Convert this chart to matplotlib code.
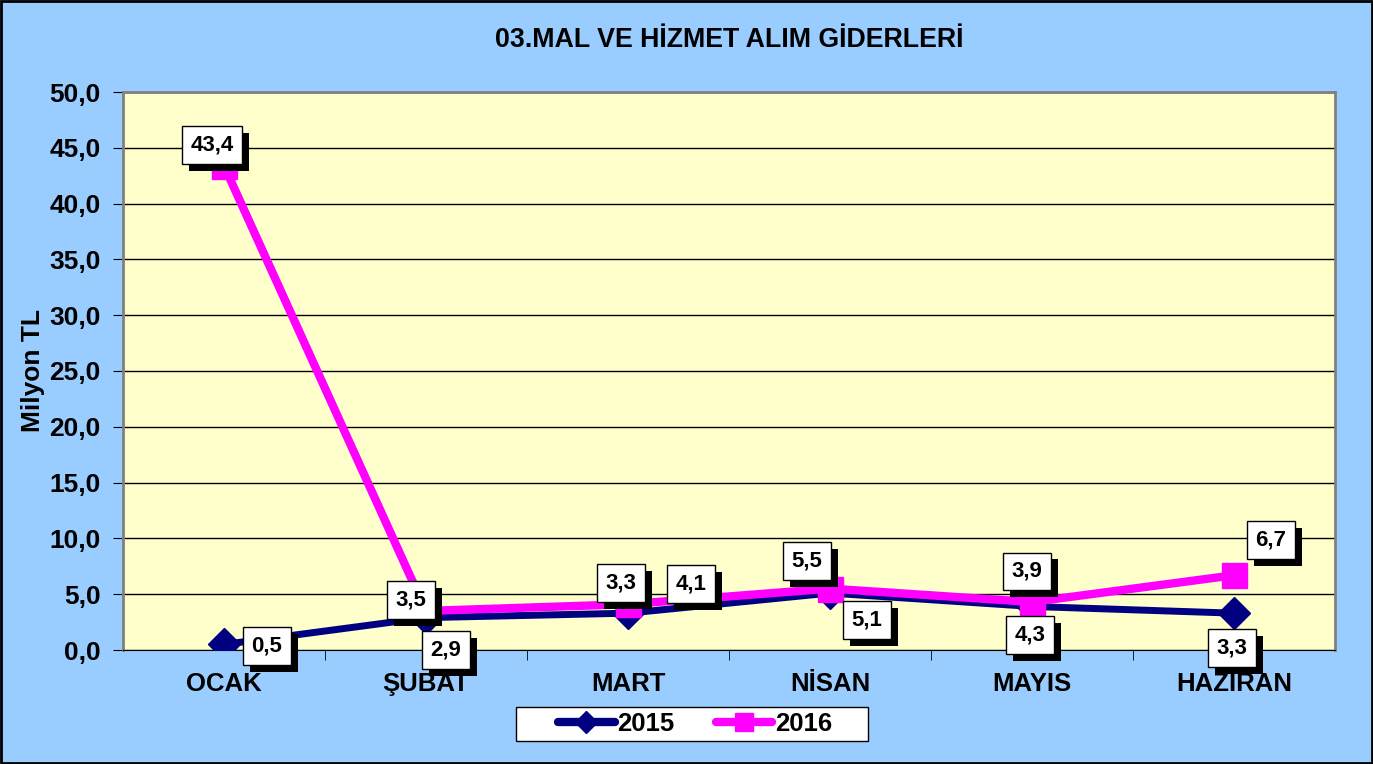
import matplotlib.pyplot as plt
import matplotlib.patheffects as pe
from matplotlib.lines import Line2D

plt.rcParams['font.family'] = ['Liberation Sans', 'DejaVu Sans']

months = ['OCAK', 'ŞUBAT', 'MART', 'NİSAN', 'MAYIS', 'HAZİRAN']
y2015 = [0.5, 2.9, 3.3, 5.1, 3.9, 3.3]
y2016 = [43.4, 3.5, 4.1, 5.5, 4.3, 6.7]
yticks = [0, 5, 10, 15, 20, 25, 30, 35, 40, 45, 50]

# label offsets in pixels (labels were moved by hand in the original)
off2015 = [(43, -2), (20, -32), (-7, 30), (37, -27), (-5, 35), (-2, -35)]
off2016 = [(-12, 21), (-15, 11), (63, 20), (-23, 28), (-2, -33), (37, 35)]

blue_bg = '#99CCFF'
navy = '#000080'
pink = '#FF00FF'

fig = plt.figure(figsize=(13.73, 7.64), dpi=100, facecolor=blue_bg)
ax = fig.add_axes([123 / 1373, 1 - 650 / 764, (1335 - 123) / 1373, (650 - 92) / 764])
ax.set_facecolor('#FFFFCC')

x = range(len(months))
ax.plot(x, y2015, color=navy, lw=5, marker='D', ms=16, zorder=3)
ax.plot(x, y2016, color=pink, lw=6, marker='s', ms=18, zorder=4)

ax.set_xlim(-0.5, len(months) - 0.5)
ax.set_ylim(0, 50)
ax.set_yticks(yticks)
ax.set_yticklabels([('%.1f' % v).replace('.', ',') for v in yticks],
                   fontsize=19, fontweight='bold')
ax.yaxis.grid(True, color='black', lw=1)
ax.set_axisbelow(True)

ax.set_xticks(list(x))
ax.set_xticklabels(months, fontsize=18.5, fontweight='bold')
ax.tick_params(axis='x', length=0, pad=16)
ax.set_xticks([i + 0.5 for i in range(len(months) - 1)], minor=True)
ax.tick_params(axis='x', which='minor', length=7, direction='out', color='black')
ax.tick_params(axis='y', length=7, direction='out', pad=9)

for s in ['top', 'right', 'left']:
    ax.spines[s].set_color('#808080')
    ax.spines[s].set_linewidth(2)
ax.spines['bottom'].set_color('black')

ax.set_ylabel('Milyon TL', fontsize=19, fontweight='bold', labelpad=3)

shadow = [pe.withSimplePatchShadow(offset=(5, -5), shadow_rgbFace='black', alpha=1)]

def label(xi, yi, dx, dy):
    txt = ('%.1f' % yi).replace('.', ',')
    t = ax.annotate(txt, (xi, yi), xytext=(dx, dy), textcoords='offset pixels',
                    ha='center', va='center', fontsize=16, fontweight='bold', color='black',
                    bbox=dict(boxstyle='square,pad=0.38', fc='white', ec='black', lw=1),
                    zorder=6)
    t.get_bbox_patch().set_path_effects(shadow)

for i in x:
    label(i, y2015[i], *off2015[i])
    label(i, y2016[i], *off2016[i])

fig.text(729 / 1373, 1 - 40 / 764, '03.MAL VE HİZMET ALIM GİDERLERİ',
         ha='center', va='center', fontsize=19.3, fontweight='bold')

handles = [Line2D([], [], color=navy, lw=6, marker='D', ms=11, solid_capstyle='round'),
           Line2D([], [], color=pink, lw=6, marker='s', ms=13, solid_capstyle='round')]
leg = fig.legend(handles, ['2015', '2016'], loc='center',
                 bbox_to_anchor=(695 / 1373, 1 - 724 / 764), ncol=2, frameon=False,
                 prop={'size': 18.5, 'weight': 'bold'}, handlelength=2.2,
                 columnspacing=1.6, borderpad=0.25, handletextpad=0.1)
# legend frame drawn by hand (wider than the content, as in the original)
fig.patches.append(plt.Rectangle((516 / 1373, 1 - 741 / 764), 352 / 1373, 34 / 764,
                                 transform=fig.transFigure, fc='white', ec='black',
                                 lw=1, zorder=0.5))

fig.patches.append(plt.Rectangle((0.001, 0.001), 0.998, 0.998, transform=fig.transFigure,
                                 fill=False, ec='black', lw=2))

fig.savefig('out.png', dpi=100, facecolor=blue_bg)
